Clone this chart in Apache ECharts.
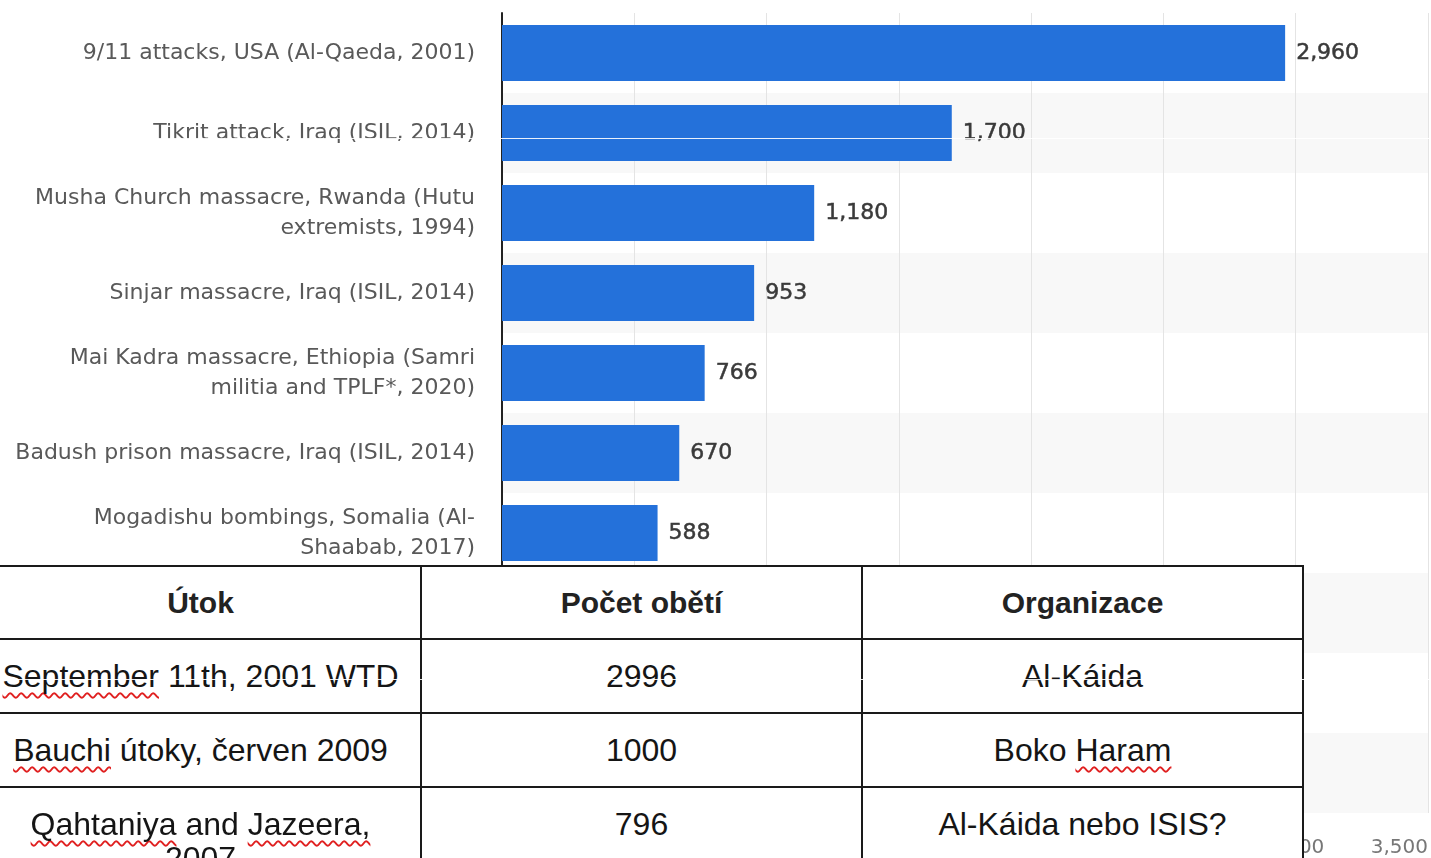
<!DOCTYPE html>
<html>
<head>
<meta charset="utf-8">
<script src="https://cdn.jsdelivr.net/npm/echarts@6/dist/echarts.min.js"></script>
<style>
  html, body { margin: 0; padding: 0; background: #fff; overflow: hidden; }
  #chart { position: absolute; left: 0; top: 0; width: 1431px; height: 858px; }
  #tbl { position: absolute; left: 0; top: 0; width: 1431px; height: 858px; pointer-events: none; }
  .cell { position: absolute; text-align: center; font-family: 'Liberation Sans', Arial, sans-serif;
          color: #151515; font-size: 32px; line-height: 34px; }
  .head { font-weight: bold; font-size: 30px; color: #222; }
  .sp { text-decoration: underline wavy #e02020; text-decoration-thickness: 2px;
        text-underline-offset: 5px; text-decoration-skip-ink: none; }
  .ln { position: absolute; background: #1a1a1a; }
  .wl { position: absolute; background: rgba(255,255,255,0.9); height: 1px; }
</style>
</head>
<body>
<div id="chart"></div>
<div id="tbl"></div>
<script>
// statista bar chart (behind), last three rows are hidden under the table
const categories = [
  '9/11 attacks, USA (Al-Qaeda, 2001)',
  'Tikrit attack, Iraq (ISIL, 2014)',
  'Musha Church massacre, Rwanda (Hutu\nextremists, 1994)',
  'Sinjar massacre, Iraq (ISIL, 2014)',
  'Mai Kadra massacre, Ethiopia (Samri\nmilitia and TPLF*, 2020)',
  'Badush prison massacre, Iraq (ISIL, 2014)',
  'Mogadishu bombings, Somalia (Al-\nShaabab, 2017)',
  ' ',
  '  ',
  '   ',
]
const victims = [2960, 1700, 1180, 953, 766, 670, 588, null, null, null]

// table pasted over the chart
const tableHeader = ['Útok', 'Počet obětí', 'Organizace']
const tableRows = [
  ['September 11th, 2001 WTD', '2996', 'Al-Káida'],
  ['Bauchi útoky, červen 2009', '1000', 'Boko Haram'],
  ['Qahtaniya and Jazeera, 2007', '796', 'Al-Káida nebo ISIS?'],
]
// words with the red spell-check squiggle
const squiggly = ['September', 'Bauchi', 'Qahtaniya', 'Jazeera,', 'Haram']

const fmt = v => (v == null ? '' : Number(v).toLocaleString('en-US'))

let myChart = echarts.init(document.getElementById('chart'))
let option = {
  backgroundColor: '#fff',
  animation: false,
  grid: { left: 502, right: 0, top: 13, bottom: 45 },
  xAxis: {
    type: 'value',
    min: 0,
    max: 3500,
    interval: 500,
    axisLine: { show: false },
    axisTick: { show: false },
    splitLine: { lineStyle: { color: '#e4e4e4', width: 1 } },
    axisLabel: {
      color: '#777',
      fontSize: 20,
      fontFamily: 'DejaVu Sans',
      margin: 25,
      alignMaxLabel: 'right',
      formatter: fmt,
    },
  },
  yAxis: {
    type: 'category',
    inverse: true,
    data: categories,
    axisLine: { show: true, lineStyle: { color: '#222', width: 2 } },
    axisTick: { show: false },
    splitArea: { show: true, areaStyle: { color: ['#ffffff', '#f8f8f8'] } },
    axisLabel: {
      color: '#595959',
      fontSize: 22,
      fontFamily: 'DejaVu Sans',
      lineHeight: 30,
      margin: 27,
      align: 'right',
      padding: [4, 0, 0, 0],
    },
  },
  series: [
    {
      type: 'bar',
      data: victims,
      barWidth: 56,
      itemStyle: { color: '#2471da' },
      label: {
        show: true,
        position: 'right',
        distance: 11,
        color: '#3a3a3a',
        fontSize: 22,
        fontFamily: 'DejaVu Sans',
        textBorderColor: '#3a3a3a',
        textBorderWidth: 0.5,
        formatter: p => fmt(p.value),
      },
    },
  ],
}
myChart.setOption(option)

// table overlay
const tbl = document.getElementById('tbl')
const colX = [-20, 421, 862]
const colW = 441
const rowY = [566, 639, 713, 787]
const tableRight = 1303

function addLine(x, y, w, h, cls) {
  const d = document.createElement('div')
  d.className = cls || 'ln'
  d.style.left = x + 'px'
  d.style.top = y + 'px'
  d.style.width = w + 'px'
  if (h) d.style.height = h + 'px'
  tbl.appendChild(d)
}
function markup(text) {
  return text.split(' ').map(w => (squiggly.includes(w) ? '<span class="sp">' + w + '</span>' : w)).join(' ')
}

const bg = document.createElement('div')
bg.style.cssText = 'position:absolute;left:0;top:' + rowY[0] + 'px;width:' + tableRight + 'px;height:' + (858 - rowY[0]) + 'px;background:#fff'
tbl.appendChild(bg)

const allRows = [tableHeader].concat(tableRows)
allRows.forEach((row, r) => {
  row.forEach((txt, c) => {
    const d = document.createElement('div')
    d.className = 'cell' + (r === 0 ? ' head' : '')
    d.style.left = colX[c] + 20 + 'px'
    d.style.width = colW - 40 + 'px'
    d.style.top = rowY[r] + 20 + 'px'
    d.innerHTML = r === 0 ? txt : markup(txt)
    tbl.appendChild(d)
  })
})
rowY.forEach(y => addLine(0, y - 1, tableRight + 1, 2))
colX.slice(1).concat([tableRight]).forEach(x => addLine(x - 1, rowY[0] - 1, 2, 858 - rowY[0] + 1))

// thin white scan artefacts across the picture
addLine(140, 138, 1291, 0, 'wl')
addLine(0, 679, 1431, 0, 'wl')

window.addEventListener('resize', function () {
  myChart.resize()
})
</script>
</body>
</html>
